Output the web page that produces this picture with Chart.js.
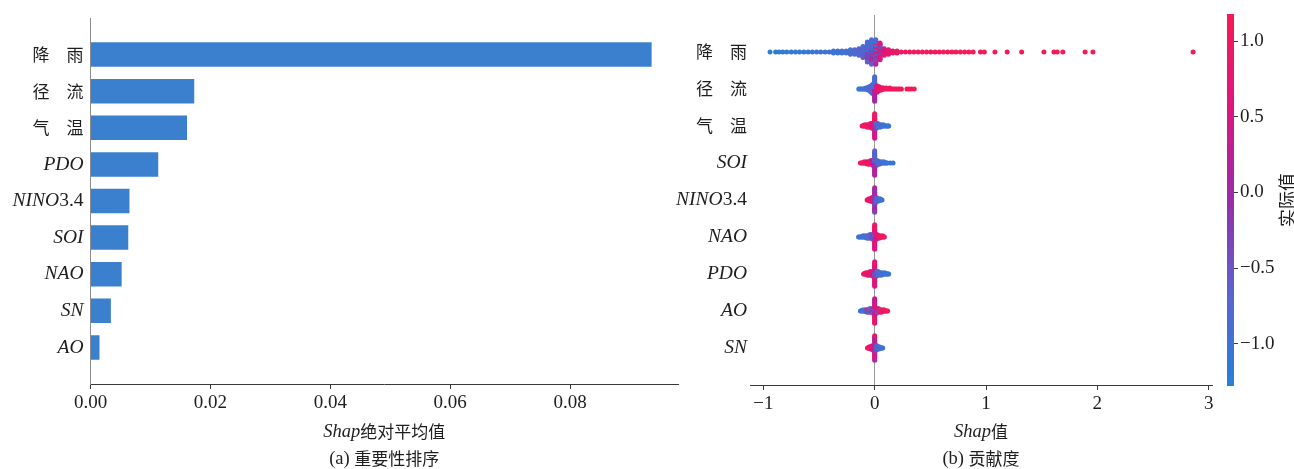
<!DOCTYPE html>
<html>
<head>
<meta charset="utf-8">
<script src="https://cdn.jsdelivr.net/npm/chart.js@4.4.1/dist/chart.umd.min.js"></script>
<style>
  html, body { margin: 0; padding: 0; background: #ffffff; }
  #wrap { position: relative; width: 1294px; height: 469px; overflow: hidden; }
  #wrap canvas { position: absolute; left: 0; top: 0; }
</style>
</head>
<body>
<div id="wrap">
  <canvas id="bars" width="1294" height="469"></canvas>
  <canvas id="swarm" width="1294" height="469"></canvas>
  <canvas id="cbar" width="1294" height="469"></canvas>
</div>
<script>
// ---------- (a) mean |SHAP| per feature, most important first ----------
const importanceLabels = ['降\u3000雨', '径\u3000流', '气\u3000温', 'PDO', 'NINO3.4', 'SOI', 'NAO', 'SN', 'AO'];
const importanceValues = [0.0936, 0.0173, 0.0161, 0.0113, 0.0065, 0.0063, 0.0052, 0.0034, 0.0015];
const importanceTicks = [0, 0.02, 0.04, 0.06, 0.08];
const importanceMax = 0.098;

// ---------- (b) SHAP beeswarm, rows top to bottom ----------
const swarmLabels = ['降\u3000雨', '径\u3000流', '气\u3000温', 'SOI', 'NINO3.4', 'NAO', 'PDO', 'AO', 'SN'];
const swarmTicks = [-1, 0, 1, 2, 3];
const swarmRange = [-1.12, 3.03];
const colorbarTicks = [-1, -0.5, 0, 0.5, 1];
const colorbarRange = [-1.28, 1.18];

// each entry: [SHAP value, [feature values of the samples sitting at that SHAP value]]
const rainSamples = [
  [-0.94, [-1.25]], [-0.89, [-1.2]], [-0.86, [-1.2]], [-0.826, [-1.15]],
  [-0.79, [-1.2]], [-0.75, [-1.1]], [-0.712, [-1.15]], [-0.675, [-1.1]], [-0.636, [-1.1]],
  [-0.598, [-1.05]], [-0.56, [-1.1]], [-0.522, [-1.0]], [-0.485, [-1.05]], [-0.446, [-1.0]],
  [-0.408, [-1.0]],
  [-0.37, [-0.95, -1.0, -1.05]], [-0.332, [-0.95, -0.9, -1.0]], [-0.294, [-0.9, -0.95, -1.0]],
  [-0.256, [-0.9, -0.85, -0.95]], [-0.218, [-0.85, -0.9, -0.8, -0.95, -0.9]],
  [-0.18, [-0.85, -0.8, -0.9, -0.75, -0.8]],
  [-0.142, [-0.8, -0.75, -0.85, -0.7, -0.8, -0.65, -0.9]],
  [-0.105, [-0.75, -0.7, -0.8, -0.6, -0.7, -0.85, -0.65, -0.75, -0.55, -0.9, -0.6]],
  [-0.066, [-0.6, -0.7, -0.5, -0.8, -0.4, -0.7, -0.3, -0.9, -0.5, -0.6, -0.2, -0.8, -0.4, -1.0, -0.3, -0.7, -0.5, -0.9, -0.6]],
  [-0.028, [-0.5, -0.2, -0.7, 0.1, -0.6, -0.9, -0.3, -0.4, 0.3, -0.8, -0.5, -1.0, -0.1, -0.6, 0.5, -0.9, -0.3, -0.7, 0.2, -1.1, -0.4, -0.8, -0.6]],
  [0.01, [-0.2, 0.4, -0.6, -0.3, 0.8, -0.8, 0.1, -0.5, -0.9, 0.6, -0.4, -0.7, 0.2, -1.0, -0.3, 0.9, -0.6, -0.8, 0.0, -1.1, -0.5, -0.7, 0.3]],
  [0.048, [0.2, 0.5, -0.3, 0.7, 0.0, 0.9, -0.5, 0.6, 0.3, -0.6, 0.8, 0.1, 1.0, -0.4, 0.4, 0.7]],
  [0.086, [0.3, 0.5, 0.6, 0.2, 0.7, 0.4, 0.8]],
  [0.124, [0.7, 0.8, 0.6, 0.9, 0.75]],
  [0.162, [0.9, 0.8, 1.0]], [0.2, [0.95, 1.0, 0.9]], [0.238, [1.0]], [0.276, [1.05]],
  [0.314, [1.05]], [0.352, [1.1]], [0.39, [1.05]], [0.428, [1.1]], [0.466, [1.1]],
  [0.504, [1.05]], [0.542, [1.15]], [0.58, [1.1]], [0.618, [1.1]], [0.656, [1.15]],
  [0.694, [1.1]], [0.73, [1.15]],
  [0.77, [1.2]], [0.808, [1.15]], [0.846, [1.2]], [0.884, [1.15]],
  [0.95, [1.2]], [0.985, [1.15]],
  [1.08, [1.2]], [1.19, [1.2]], [1.32, [1.25]], [1.52, [1.2]], [1.61, [1.25]],
  [1.64, [1.2]], [1.69, [1.25]], [1.89, [1.2]], [1.96, [1.25]], [2.86, [1.3]]
];

const runoffSamples = [
  [-0.143, [-1.1]], [-0.133, [-1.05]], [-0.122, [-1.1]], [-0.112, [-1.0]], [-0.101, [-1.05]], [-0.09, [-1.0]],
  [-0.08, [-0.95, -1.0]], [-0.07, [-0.95, -0.9]], [-0.06, [-0.9, -0.95, -0.85]],
  [-0.05, [-0.9, -0.85, -0.95, -0.8]], [-0.04, [-0.85, -0.8, -0.9, -0.75, -0.85]],
  [-0.03, [-0.8, -0.75, -0.85, -0.7, -0.8, -0.65, -0.9]],
  [-0.02, [-0.7, -0.75, -0.6, -0.8, -0.65, -0.85, -0.55, -0.7, -0.9]],
  [0.0, [-0.4, -0.9, 0.1, -0.8, 0.2, -1.0, 0.0, -0.7, 0.3, -0.9, 0.1, -0.8, 0.2, -1.1, 0.0, -0.9, 0.3, -0.7, 0.1, -1.0, 0.2, -0.8, 0.0]],
  [0.02, [0.3, 0.5, 0.4, 0.6, 0.2, 0.7, 0.5]], [0.03, [0.6, 0.7, 0.5, 0.8, 0.6]], [0.04, [0.7, 0.8, 0.9, 0.7]],
  [0.05, [0.8, 0.9, 0.85]], [0.06, [0.9, 0.85, 0.95]], [0.07, [0.95, 0.9]], [0.08, [1.0, 0.95]],
  [0.09, [1.0]], [0.105, [1.0, 1.05]], [0.12, [1.05]], [0.135, [1.0, 1.05]], [0.15, [1.05]], [0.165, [1.1]],
  [0.18, [1.05]], [0.195, [1.1]], [0.21, [1.1]], [0.225, [1.15]], [0.24, [1.1]],
  [0.29, [1.15]], [0.31, [1.2]], [0.33, [1.15]], [0.355, [1.2]]
];

const tempSamples = [
  [-0.113, [1.1]], [-0.104, [1.05]], [-0.095, [1.1, 1.0]], [-0.086, [1.05, 1.0]], [-0.077, [1.0, 1.05]],
  [-0.068, [1.0, 0.95, 1.05]], [-0.059, [0.95, 1.0, 0.9]], [-0.05, [0.95, 0.9, 1.0]],
  [-0.041, [0.9, 0.85, 0.95, 0.8]], [-0.032, [0.85, 0.9, 0.8, 0.75]], [-0.023, [0.8, 0.7, 0.85, 0.6, 0.75]],
  [-0.012, [0.6, 0.5, 0.7, 0.4, 0.65, 0.3]],
  [0.0, [0.4, 0.8, 0.2, 1.0, 0.5, 0.7, 0.1, 0.9, 0.6, 1.1, 0.3, 0.8, 0.5, 1.0, 0.2, 0.9, 0.7, 1.1, 0.4, 0.8, 0.6, 1.0, 0.5]],
  [0.012, [-0.3, -0.5, -0.2, -0.6, -0.4]], [0.022, [-0.6, -0.7, -0.5, -0.8]], [0.032, [-0.8, -0.7, -0.9, -0.75]],
  [0.042, [-0.85, -0.9, -0.8]], [0.052, [-0.9, -0.95, -0.85]], [0.062, [-0.95, -0.9]], [0.072, [-1.0, -0.95]],
  [0.082, [-1.0, -1.05]], [0.092, [-1.05]], [0.102, [-1.0]], [0.112, [-1.1]], [0.12, [-1.05]], [0.126, [-1.1]]
];

const soiSamples = [
  [-0.128, [1.1]], [-0.118, [1.05]], [-0.108, [1.1]], [-0.098, [1.0, 1.05]], [-0.088, [1.0, 1.05]],
  [-0.078, [1.0, 0.95]], [-0.068, [0.95, 1.0, 0.9]], [-0.058, [0.95, 0.9, 1.0]], [-0.048, [0.9, 0.85, 0.95]],
  [-0.038, [0.85, 0.8, 0.9, 0.75]], [-0.028, [0.8, 0.7, 0.75, 0.6]], [-0.016, [0.6, 0.4, 0.5, 0.3, 0.55]],
  [0.0, [-0.2, -0.6, 0.1, -0.8, 0.3, -0.5, 0.0, -0.9, 0.2, -0.4, 0.4, -0.7, -0.1, -1.0, 0.3, -0.6, 0.5, -0.8, 0.0, -0.5, 0.2, -0.7, 0.1]],
  [0.016, [-0.3, -0.5, -0.4, -0.6, -0.2]], [0.026, [-0.6, -0.7, -0.5, -0.8]], [0.036, [-0.8, -0.75, -0.85]],
  [0.046, [-0.85, -0.9, -0.8]], [0.056, [-0.9, -0.95]], [0.066, [-0.95, -0.9]], [0.076, [-1.0, -0.95]],
  [0.086, [-1.0, -1.05]], [0.096, [-1.05]], [0.106, [-1.0]], [0.112, [-1.1]],
  [0.14, [-1.1]], [0.165, [-1.15]]
];

const ninoSamples = [
  [-0.068, [1.05]], [-0.061, [1.0]], [-0.054, [1.0, 0.95]], [-0.047, [0.95, 1.0]], [-0.04, [0.9, 0.95, 0.85]],
  [-0.033, [0.9, 0.85, 0.8]], [-0.026, [0.8, 0.85, 0.75, 0.7]], [-0.018, [0.7, 0.6, 0.75, 0.5]],
  [-0.01, [0.5, 0.4, 0.6, 0.3, 0.45]],
  [0.0, [0.0, -0.2, 0.2, -0.1, 0.1, -0.3, 0.3, 0.0, -0.2, 0.2, -0.4, 0.1, -0.1, 0.3, -0.3, 0.0, 0.2, -0.2, 0.1, -0.1, 0.0, 0.2, -0.3]],
  [0.01, [-0.3, -0.4, -0.5, -0.2, -0.45]], [0.018, [-0.5, -0.6, -0.7, -0.55]], [0.026, [-0.7, -0.75, -0.8]],
  [0.034, [-0.8, -0.85, -0.9]], [0.042, [-0.9, -0.85]], [0.05, [-0.95, -0.9]], [0.058, [-1.0]], [0.066, [-1.05]]
];

const naoSamples = [
  [-0.145, [-1.1]], [-0.136, [-1.05]], [-0.127, [-1.1]], [-0.118, [-1.0]], [-0.109, [-1.05, -1.0]],
  [-0.1, [-1.0, -0.95]], [-0.091, [-1.0, -0.95]], [-0.082, [-0.95, -0.9]], [-0.073, [-0.9, -0.95, -0.85]],
  [-0.064, [-0.9, -0.85, -0.8]], [-0.055, [-0.85, -0.8, -0.9]], [-0.046, [-0.8, -0.75, -0.85, -0.7]],
  [-0.037, [-0.75, -0.7, -0.8, -0.6]], [-0.028, [-0.6, -0.7, -0.5, -0.65]], [-0.016, [-0.5, -0.4, -0.6, -0.3, -0.45]],
  [0.0, [-0.6, -0.8, -0.5, -0.9, -0.4, -0.7, -0.3, 0.5, 0.7, 0.4, 0.8, 0.6, 0.9, 0.5, 0.7, 1.0, 0.6, 0.8, 0.4, 0.9, 0.7, 1.0, 0.6]],
  [0.014, [0.3, 0.5, 0.4, 0.6, 0.45]], [0.024, [0.6, 0.7, 0.5, 0.65]], [0.034, [0.7, 0.8, 0.75]],
  [0.044, [0.8, 0.85, 0.9]], [0.054, [0.9, 0.85]], [0.064, [0.95, 0.9]], [0.074, [1.0, 0.95]], [0.08, [1.0]], [0.087, [1.05]]
];

const pdoSamples = [
  [-0.1, [1.05]], [-0.092, [1.0]], [-0.084, [1.0, 1.05]], [-0.076, [0.95, 1.0]], [-0.068, [0.95, 0.9, 1.0]],
  [-0.06, [0.9, 0.95, 0.85]], [-0.052, [0.9, 0.85, 0.8]], [-0.044, [0.85, 0.8, 0.75, 0.9]], [-0.036, [0.8, 0.75, 0.7, 0.85]],
  [-0.026, [0.7, 0.6, 0.75, 0.65]], [-0.014, [0.5, 0.6, 0.4, 0.55, 0.3]],
  [0.0, [-0.7, -0.5, -0.8, -0.4, -0.9, 0.6, 0.8, 0.5, 0.9, 0.7, 1.0, 0.4, 0.8, 0.6, 0.9, 0.5, 0.7, 1.0, 0.6, 0.8, 0.5, 0.9, 0.7]],
  [0.014, [-0.3, -0.5, -0.4, -0.6, -0.45]], [0.024, [-0.6, -0.7, -0.5, -0.65]], [0.034, [-0.7, -0.8, -0.75, -0.85]],
  [0.044, [-0.8, -0.85, -0.9]], [0.054, [-0.85, -0.9, -0.95]], [0.064, [-0.9, -0.95, -1.0]], [0.074, [-0.95, -1.0]],
  [0.084, [-1.0, -0.95]], [0.094, [-1.0, -1.05]], [0.104, [-1.05]], [0.112, [-1.0]], [0.119, [-1.1]], [0.126, [-1.05]]
];

const aoSamples = [
  [-0.128, [-1.1]], [-0.119, [-1.05]], [-0.11, [-1.0, -1.05]], [-0.101, [-1.0]], [-0.092, [-0.95, -1.0]],
  [-0.083, [-0.95, -0.9]], [-0.074, [-0.9, 0.8, -0.95]], [-0.065, [-0.85, -0.9, 0.9]], [-0.056, [-0.8, 0.7, -0.85]],
  [-0.047, [-0.8, -0.75, 0.8, -0.7]], [-0.038, [-0.7, 0.6, -0.75, -0.65]], [-0.028, [-0.6, -0.5, 0.5, -0.7]],
  [-0.016, [-0.4, -0.5, 0.3, -0.3, -0.6]],
  [0.0, [-0.5, -0.7, -0.3, -0.8, 0.2, 0.6, 0.0, 0.8, 0.4, 0.7, 0.1, 0.9, 0.5, 0.3, 0.8, 0.6, 1.0, 0.2, 0.7, 0.5, 0.9, 0.4, 0.8]],
  [0.016, [0.4, 0.3, -0.4, 0.5, 0.6]], [0.026, [0.6, 0.5, -0.6, 0.7]], [0.036, [0.7, 0.8, -0.7, 0.75]],
  [0.046, [0.8, 0.85, 0.9]], [0.056, [0.85, -0.8, 0.9]], [0.066, [0.9, 0.95, 1.0]], [0.076, [0.95, 1.0]],
  [0.086, [1.0, 1.05]], [0.096, [1.0]], [0.106, [1.05]], [0.117, [1.1]]
];

const snSamples = [
  [-0.065, [1.0]], [-0.058, [1.05]], [-0.051, [0.95, 1.0]], [-0.044, [0.9, 0.95]], [-0.037, [0.85, 0.9, 0.95]],
  [-0.029, [0.8, 0.85, 0.75]], [-0.021, [0.7, 0.75, 0.6, 0.8]], [-0.012, [0.5, 0.6, 0.4, 0.55, 0.3]],
  [0.0, [0.2, 0.5, -0.1, 0.7, 0.3, 0.0, 0.6, -0.2, 0.8, 0.4, 0.1, 0.9, 0.5, -0.1, 0.7, 0.3, 0.6, 0.0, 0.8, 0.2, 0.5, 0.9, 0.1]],
  [0.012, [-0.3, -0.4, -0.5, -0.2, -0.45]], [0.02, [-0.5, -0.6, -0.55, -0.7]], [0.028, [-0.7, -0.75, -0.8]],
  [0.036, [-0.8, -0.85, -0.9]], [0.044, [-0.9, -0.85]], [0.052, [-0.95]], [0.06, [-1.0]], [0.066, [-1.0]], [0.072, [-1.05]]
];

const swarmRows = [rainSamples, runoffSamples, tempSamples, soiSamples, ninoSamples,
                   naoSamples, pdoSamples, aoSamples, snSamples];

// ---------- styling ----------
const SERIF = '"Liberation Serif", "Times New Roman", serif';
const CJK = '"Noto Sans CJK SC", sans-serif';
const TEXT = '#1e1e1e';
const AXIS = '#3a3a3a';
const BAR_BLUE = '#3b80ce';
// red-blue colormap (low feature value -> blue, high -> red)
const CMAP = [
  [0.00, [38, 128, 218]],
  [0.25, [92, 98, 206]],
  [0.50, [150, 46, 168]],
  [0.75, [222, 20, 128]],
  [1.00, [246, 26, 84]]
];

function cmapRGB(t) {
  t = Math.max(0, Math.min(1, t));
  for (let i = 1; i < CMAP.length; i++) {
    if (t <= CMAP[i][0]) {
      const [t0, c0] = CMAP[i - 1], [t1, c1] = CMAP[i];
      const f = (t - t0) / (t1 - t0);
      return c0.map((c, k) => Math.round(c + (c1[k] - c) * f));
    }
  }
  return CMAP[CMAP.length - 1][1];
}
function valueColor(v) {
  const t = (v - colorbarRange[0]) / (colorbarRange[1] - colorbarRange[0]);
  const c = cmapRGB(t);
  return `rgb(${c[0]},${c[1]},${c[2]})`;
}

// beeswarm stacking: quantise SHAP values into 100 bins per row and
// stack the samples of a bin alternately above / below the row line
function swarmRow(samples, row) {
  const pts = [];
  samples.forEach(([s, vals]) => vals.forEach(v => pts.push({ x: s, v })));
  const xs = pts.map(p => p.x);
  const lo = Math.min(...xs), hi = Math.max(...xs);
  const nbins = 100;
  pts.forEach(p => { p.q = Math.round(nbins * (p.x - lo) / (hi - lo + 1e-8)); });
  const order = pts.map((p, i) => i).sort((a, b) => (pts[a].q - pts[b].q) || (a - b));
  const ys = new Array(pts.length).fill(0);
  let layer = 0, last = -1;
  order.forEach(i => {
    if (pts[i].q !== last) layer = 0;
    ys[i] = Math.ceil(layer / 2) * ((layer % 2) * 2 - 1);
    layer++;
    last = pts[i].q;
  });
  const top = Math.max(...ys.map(y => y + 1));
  const k = 0.9 * (0.4 / top);
  return pts.map((p, i) => ({ x: p.x, y: row - ys[i] * k, v: p.v }));
}

// ---------- mixed-style text (italic Latin, upright digits / CJK) ----------
function textRuns(text, latinSize, cjkSize, italicLatin) {
  return text.match(/[\u3000-\u9fff]+|[A-Za-z]+|[^A-Za-z\u3000-\u9fff]+/g).map(t => {
    if (/[\u3000-\u9fff]/.test(t)) return { t, font: `${cjkSize}px ${CJK}` };
    if (/[A-Za-z]/.test(t) && italicLatin) return { t, font: `italic ${latinSize}px ${SERIF}` };
    return { t, font: `${latinSize}px ${SERIF}` };
  });
}
function drawRuns(ctx, runs, x, y, align) {
  ctx.save();
  ctx.fillStyle = TEXT;
  ctx.textBaseline = 'middle';
  ctx.textAlign = 'left';
  const widths = runs.map(r => { ctx.font = r.font; return ctx.measureText(r.t).width; });
  const total = widths.reduce((a, b) => a + b, 0);
  let cx = align === 'right' ? x - total : align === 'center' ? x - total / 2 : x;
  runs.forEach((r, i) => { ctx.font = r.font; ctx.fillText(r.t, cx, y); cx += widths[i]; });
  ctx.restore();
}

const tickFont = { family: SERIF, size: 19 };
const fmtMinus = (v, d) => (v < 0 ? '\u2212' : '') + Math.abs(v).toFixed(d);

// ---------- (a) bar chart ----------
const barLabelsPlugin = {
  id: 'barLabels',
  afterDraw(chart) {
    const { ctx, scales } = chart;
    importanceLabels.forEach((lab, i) => {
      const y = scales.y.getPixelForValue(i + 1);
      drawRuns(ctx, textRuns(lab, 19.5, 17, true), 83.5, y, 'right');
    });
    const cx = (scales.x.left + scales.x.right) / 2;
    drawRuns(ctx, textRuns('Shap绝对平均值', 18.5, 17, true), cx, 432, 'center');
    drawRuns(ctx, textRuns('(a) 重要性排序', 18.5, 17, false), cx, 459, 'center');
  }
};

new Chart(document.getElementById('bars'), {
  type: 'bar',
  data: {
    labels: ['', ...importanceLabels, ''],
    datasets: [{
      data: [null, ...importanceValues, null],
      backgroundColor: BAR_BLUE,
      borderWidth: 0,
      barPercentage: 0.67,
      categoryPercentage: 1
    }]
  },
  options: {
    indexAxis: 'y',
    responsive: false,
    animation: false,
    devicePixelRatio: 1,
    events: [],
    layout: { padding: { left: 0, top: 18, right: 1294 - 678, bottom: 0 } },
    plugins: { legend: { display: false }, tooltip: { enabled: false } },
    scales: {
      x: {
        type: 'linear',
        min: 0,
        max: importanceMax,
        afterBuildTicks: s => { s.ticks = importanceTicks.map(v => ({ value: v })); },
        afterFit: s => { s.height = 469 - 384; },
        ticks: { font: tickFont, color: TEXT, padding: 3, callback: v => v.toFixed(2), maxRotation: 0 },
        grid: { drawOnChartArea: false, drawTicks: true, tickLength: 5, tickColor: AXIS, color: AXIS },
        border: { display: true, color: AXIS, width: 1 }
      },
      y: {
        type: 'category',
        offset: false,
        afterFit: s => { s.width = 90.5; },
        ticks: { display: false },
        grid: { display: false },
        border: { display: true, color: '#8c8c8c', width: 1 }
      }
    }
  },
  plugins: [barLabelsPlugin]
});

// ---------- (b) beeswarm ----------
const swarmPoints = [];
swarmRows.forEach((samples, row) => swarmPoints.push(...swarmRow(samples, row)));

const swarmLabelsPlugin = {
  id: 'swarmLabels',
  afterDraw(chart) {
    const { ctx, scales } = chart;
    swarmLabels.forEach((lab, i) => {
      const y = scales.y.getPixelForValue(i);
      drawRuns(ctx, textRuns(lab, 19.5, 17, true), 747, y, 'right');
    });
    const cx = (scales.x.left + scales.x.right) / 2;
    drawRuns(ctx, textRuns('Shap值', 18.5, 17, true), cx, 432, 'center');
    drawRuns(ctx, textRuns('(b) 贡献度', 18.5, 17, false), cx, 459, 'center');
  }
};

new Chart(document.getElementById('swarm'), {
  type: 'scatter',
  data: {
    datasets: [{
      data: swarmPoints.map(p => ({ x: p.x, y: p.y })),
      pointRadius: 2.5,
      pointHoverRadius: 2.5,
      pointBorderWidth: 0,
      pointBackgroundColor: swarmPoints.map(p => valueColor(p.v)),
      pointBorderColor: 'rgba(0,0,0,0)'
    }]
  },
  options: {
    responsive: false,
    animation: false,
    devicePixelRatio: 1,
    events: [],
    layout: { padding: { left: 750, top: 15, right: 1294 - 1212, bottom: 0 } },
    plugins: { legend: { display: false }, tooltip: { enabled: false } },
    scales: {
      x: {
        type: 'linear',
        min: swarmRange[0],
        max: swarmRange[1],
        afterBuildTicks: s => { s.ticks = swarmTicks.map(v => ({ value: v })); },
        afterFit: s => { s.height = 469 - 385; },
        ticks: { font: tickFont, color: TEXT, padding: 3, callback: v => fmtMinus(v, 0), maxRotation: 0 },
        grid: {
          drawOnChartArea: true,
          drawTicks: true,
          tickLength: 5,
          tickColor: AXIS,
          lineWidth: 1,
          color: c => (c.tick && c.tick.value === 0 ? '#9a9a9a' : 'rgba(0,0,0,0)')
        },
        border: { display: true, color: AXIS, width: 1 }
      },
      y: {
        type: 'linear',
        display: false,
        reverse: true,
        min: -1,
        max: swarmLabels.length
      }
    }
  },
  plugins: [swarmLabelsPlugin]
});

// ---------- colour bar ----------
const cbarLabelPlugin = {
  id: 'cbarLabel',
  afterDraw(chart) {
    const { ctx, chartArea } = chart;
    ctx.save();
    ctx.translate(1287, (chartArea.top + chartArea.bottom) / 2);
    ctx.rotate(-Math.PI / 2);
    drawRuns(ctx, textRuns('实际值', 18, 18, false), 0, 0, 'center');
    ctx.restore();
  }
};

new Chart(document.getElementById('cbar'), {
  type: 'bar',
  data: {
    labels: [''],
    datasets: [{
      data: [[colorbarRange[0], colorbarRange[1]]],
      borderWidth: 0,
      barPercentage: 1,
      categoryPercentage: 1,
      backgroundColor: c => {
        const area = c.chart.chartArea;
        if (!area) return 'rgb(150,46,168)';
        const g = c.chart.ctx.createLinearGradient(0, area.bottom, 0, area.top);
        CMAP.forEach(([t, rgb]) => g.addColorStop(t, `rgb(${rgb[0]},${rgb[1]},${rgb[2]})`));
        return g;
      }
    }]
  },
  options: {
    responsive: false,
    animation: false,
    devicePixelRatio: 1,
    events: [],
    layout: { padding: { left: 1227, top: 14, right: 0, bottom: 469 - 386 } },
    plugins: { legend: { display: false }, tooltip: { enabled: false } },
    scales: {
      x: { display: false },
      y: {
        type: 'linear',
        position: 'right',
        min: colorbarRange[0],
        max: colorbarRange[1],
        afterBuildTicks: s => { s.ticks = colorbarTicks.map(v => ({ value: v })); },
        afterFit: s => { s.width = 1294 - 1234; },
        ticks: { font: tickFont, color: TEXT, padding: 2, callback: v => fmtMinus(v, 1) },
        grid: { drawOnChartArea: false, drawTicks: true, tickLength: 4, tickColor: AXIS },
        border: { display: false }
      }
    }
  },
  plugins: [cbarLabelPlugin]
});
</script>
</body>
</html>
